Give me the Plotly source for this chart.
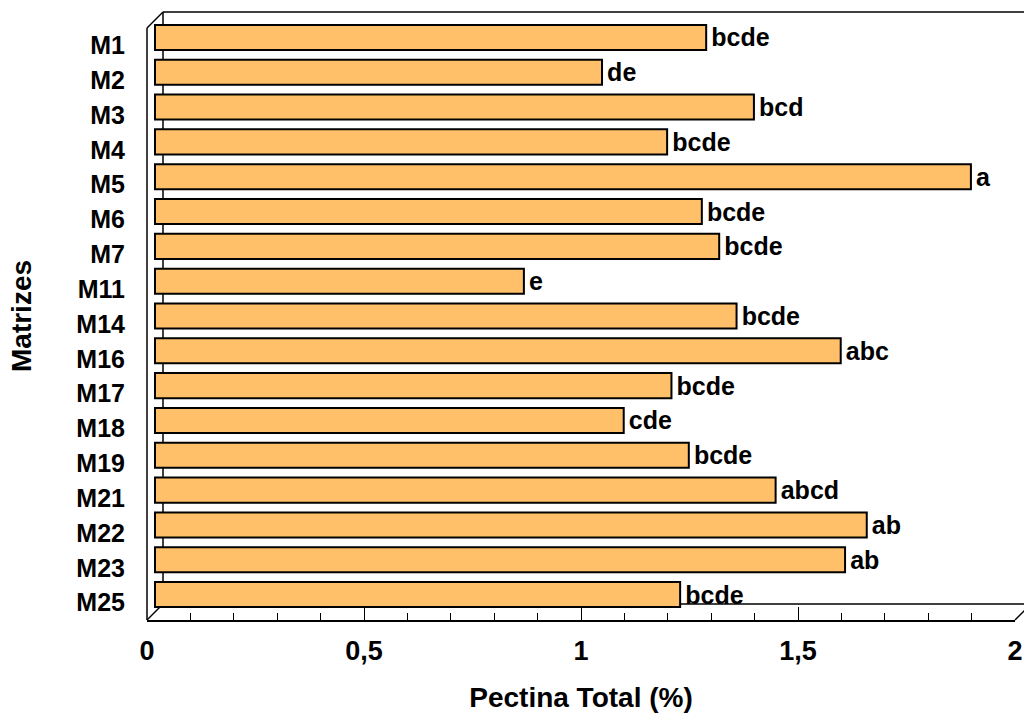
import plotly.graph_objects as go

categories = ["M1", "M2", "M3", "M4", "M5", "M6", "M7", "M11", "M14", "M16",
              "M17", "M18", "M19", "M21", "M22", "M23", "M25"]
values = [1.27, 1.03, 1.38, 1.18, 1.88, 1.26, 1.30, 0.85, 1.34, 1.58,
          1.19, 1.08, 1.23, 1.43, 1.64, 1.59, 1.21]
letters = ["bcde", "de", "bcd", "bcde", "a", "bcde", "bcde", "e", "bcde", "abc",
           "bcde", "cde", "bcde", "abcd", "ab", "ab", "bcde"]
x_ticks = [0, 0.5, 1, 1.5, 2]
x_min, x_max = 0, 2

W, H = 1024, 716
FRONT_L, FRONT_R, FRONT_T, FRONT_B = 147, 1015, 28, 620   # front frame (px)
DEPTH = 16                                                # 3D depth offset (px)
HALF = DEPTH / 2
PLOT_T = FRONT_T - DEPTH                                  # plot area top incl. back wall
n = len(categories)
cat_px = (FRONT_B - FRONT_T) / n
unit_px = (FRONT_R - FRONT_L) / (x_max - x_min)
PW = FRONT_R - FRONT_L
PH = FRONT_B - PLOT_T
span_y = PH / cat_px

FONT = "Liberation Sans, Arial, sans-serif"


def px(xp):
    return (xp - FRONT_L) / PW


def py(yp):
    return (FRONT_B - yp) / PH


fig = go.Figure()
# invisible trace on the front (labelled) axes so they get drawn
fig.add_trace(go.Bar(
    x=values, y=categories, orientation="h",
    xaxis="x", yaxis="y",
    marker=dict(color="rgba(0,0,0,0)", line=dict(width=0)),
    hoverinfo="skip", showlegend=False,
))
# visible bars, drawn at mid-depth (shifted axes)
fig.add_trace(go.Bar(
    x=values, y=categories, orientation="h",
    xaxis="x2", yaxis="y2",
    width=0.72,
    marker=dict(color="#FFC069", line=dict(color="black", width=2)),
    text=letters, texttemplate="\u200a%{text}",
    textposition="outside", cliponaxis=False,
    constraintext="none",
    textfont=dict(family=FONT, size=25, color="black", weight="bold"),
    hoverinfo="x+y",
))

line = dict(color="black", width=1.5)
shapes = []
x0f, x1f = FRONT_L, FRONT_R
y0f, y1f = FRONT_T, FRONT_B
segs = [
    (x0f, y0f, x0f, y1f),                                  # left wall front edge
    (x0f + DEPTH, y0f - DEPTH, x0f + DEPTH, y1f - DEPTH),  # left wall back edge
    (x0f, y0f, x0f + DEPTH, y0f - DEPTH),                  # top diagonal
    (x0f, y1f, x0f + DEPTH, y1f - DEPTH),                  # bottom-left diagonal
    (x0f + DEPTH, y0f - DEPTH, x1f + DEPTH, y0f - DEPTH),  # back wall top
    (x0f + DEPTH, y1f - DEPTH, x1f + DEPTH, y1f - DEPTH),  # floor back edge
    (x1f, y1f, x1f + DEPTH, y1f - DEPTH),                  # floor right diagonal
]
for (a, b, c, d) in segs:
    shapes.append(dict(type="line", xref="paper", yref="paper",
                       x0=px(a), y0=py(b), x1=px(c), y1=py(d),
                       line=line, layer="below"))

top_lab = -0.5 - DEPTH / cat_px
top_bar = -0.5 - HALF / cat_px

fig.update_layout(
    width=W, height=H,
    margin=dict(l=FRONT_L, r=W - FRONT_R, t=PLOT_T, b=H - FRONT_B, autoexpand=False),
    paper_bgcolor="white", plot_bgcolor="rgba(0,0,0,0)",
    separators=",.",
    showlegend=False,
    barmode="overlay",
    shapes=shapes,
    font=dict(family=FONT, color="black"),
    xaxis=dict(
        range=[x_min, x_max], tickvals=x_ticks,
        showgrid=False, zeroline=False,
        showline=True, linecolor="black", linewidth=1.5,
        ticks="inside", ticklen=13, tickwidth=1, tickcolor="black",
        minor=dict(dtick=0.1, ticks="inside", ticklen=7, tickwidth=1, tickcolor="black"),
        tickfont=dict(family=FONT, size=27, weight="bold"),
        ticklabelstandoff=6,
        title=dict(text="Pectina Total (%)", standoff=22,
                   font=dict(family=FONT, size=28, weight="bold")),
        automargin=False,
        fixedrange=True,
    ),
    xaxis2=dict(
        overlaying="x", anchor="y", visible=False,
        range=[x_min - HALF / unit_px, x_max - HALF / unit_px],
        fixedrange=True,
    ),
    yaxis=dict(
        type="category", categoryorder="array", categoryarray=categories,
        range=[top_lab + span_y, top_lab],
        showgrid=False, zeroline=False, showline=False, ticks="",
        tickfont=dict(family=FONT, size=25, weight="bold"),
        ticklabelstandoff=21,
        title=dict(text="Matrizes", standoff=36,
                   font=dict(family=FONT, size=28, weight="bold")),
        automargin=False,
        fixedrange=True,
    ),
    yaxis2=dict(
        type="category", categoryorder="array", categoryarray=categories,
        overlaying="y", anchor="x", visible=False,
        range=[top_bar + span_y, top_bar],
        fixedrange=True,
    ),
)

fig.write_html("out.html")
